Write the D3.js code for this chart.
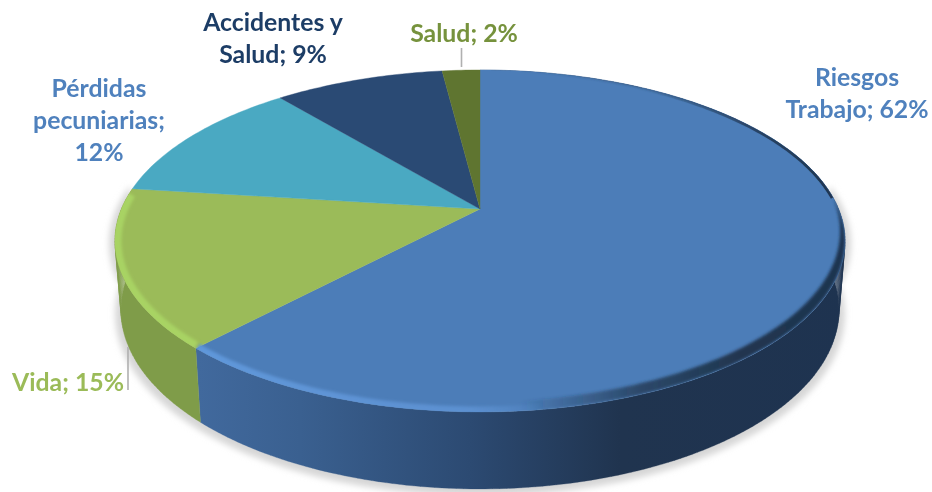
<!DOCTYPE html>
<html><head><meta charset="utf-8">
<script src="https://cdn.jsdelivr.net/npm/d3@7/dist/d3.min.js"></script>
<style>html,body{margin:0;padding:0;background:#fff}svg{display:block}text{font-family:Lato,"Open Sans",sans-serif;font-weight:700;text-anchor:middle}</style>
</head><body><svg id="c" width="932" height="492"></svg>
<script>
const categories = ["Riesgos Trabajo", "Vida", "Pérdidas pecuniarias", "Accidentes y Salud", "Salud"];
const values = [62, 15, 12, 9, 2];
const topColors = ["#4c7db8", "#9bbb59", "#4aa9c2", "#2a4a74", "#5f7530"];
const labelLines = [["Riesgos", "Trabajo; 62%"], ["Vida; 15%"], ["Pérdidas", "pecuniarias;", "12%"], ["Accidentes y", "Salud; 9%"], ["Salud; 2%"]];
const labelColors = ["#4f81bd", "#9bbb59", "#4f81bd", "#1f3d66", "#76923c"];
const labelAnchors = [[857, 86], [68, 391], [99, 97], [273, 31], [464, 42]];
const leaders = [null, [128, 347, 128, 390], null, null, [461.5, 48, 461.5, 67]];

const svg = d3.select("#c");
const defs = svg.append("defs");
const cx = 480, cy = 209, A = 165, B = 358.6, k = 0.187;
const bottomXScale = 0.9835, midY = 241, lowMidY = 310, bottomYScale = 179 / 171, lineGap = 32, fontSize = 24.8;

function project(a, lower) {
  const u = Math.sin(a), v = -Math.cos(a), w = 1 - k * v;
  const x = cx + B * u / w, y = cy + A * v / w;
  return lower ? [cx + (x - cx) * bottomXScale, lowMidY + (y - midY) * bottomYScale] : [x, y];
}
function arcPts(a0, a1, lower) {
  const n = Math.max(2, Math.ceil(Math.abs(a1 - a0) * 60));
  return d3.range(n + 1).map(i => project(a0 + (a1 - a0) * i / n, lower));
}
const line = d3.line();
function wallPath(a0, a1) {
  const t = arcPts(a0, a1, false), b = arcPts(a0, a1, true);
  return d3.range(t.length - 1).map(i => line([t[i], t[i + 1], b[i + 1], b[i]]) + "Z").join("");
}
const pie = d3.pie().sort(null).value(d => d);
const arcs = pie(values);

function grad(id, stops) {
  const g = defs.append("linearGradient").attr("id", id).attr("gradientUnits", "userSpaceOnUse")
    .attr("x1", 100).attr("x2", 860).attr("y1", 0).attr("y2", 0);
  stops.forEach(s => g.append("stop").attr("offset", (s[0] - 100) / 760).attr("stop-color", s[1]).attr("stop-opacity", s[2] === undefined ? 1 : s[2]));
}
grad("wall0", [[199, "#41699d"], [300, "#3a6090"], [470, "#2c4a72"], [620, "#20344f"], [860, "#1e3350"]]);
grad("wall1", [[110, "#7f9c49"], [210, "#7f9c49"]]);
grad("rim0", [[199, "#5f97da", 1], [470, "#5c90d0", 1], [545, "#5c90d0", 0]]);
grad("rim1", [[110, "#a8d364"], [210, "#a8d364"]]);
grad("rimBack", [[500, "#4c7db8"], [650, "#4c7db8"], [760, "#2a4668"], [860, "#1c3048"]]);
grad("rimDark", [[520, "#20364f", 0], [640, "#20364f", 0.75], [740, "#20364f", 1], [860, "#1e3350", 1]]);

const blur = (id, sd) => defs.append("filter").attr("id", id)
  .attr("x", "-10%").attr("y", "-10%").attr("width", "120%").attr("height", "120%")
  .append("feGaussianBlur").attr("stdDeviation", sd);
blur("shadowBlur", 3);
blur("rimBlur", 1.8);
blur("rimBlurThin", 0.6);
defs.append("filter").attr("id", "textBlur").attr("x", "-5%").attr("y", "-10%").attr("width", "110%").attr("height", "120%")
  .append("feGaussianBlur").attr("stdDeviation", 0.4);

const facePts = arcPts(0, 2 * Math.PI, false);
defs.append("clipPath").attr("id", "faceClip").append("path").attr("d", line(facePts) + "Z");

// shadow under the disc
svg.append("path").attr("d", wallPath(Math.PI * 0.45, Math.PI * 1.55))
  .attr("transform", "translate(480 320) scale(1.016) translate(-480 -316)")
  .attr("fill", "#d6d6d6").attr("filter", "url(#shadowBlur)");

// walls (only the two slices facing the viewer show)
svg.append("g").selectAll("path").data(arcs.slice(0, 2)).join("path")
  .attr("d", d => wallPath(d.startAngle, d.endAngle))
  .attr("fill", (d, i) => `url(#wall${i})`).attr("stroke", (d, i) => `url(#wall${i})`).attr("stroke-width", 0.3);

// top face
svg.append("g").selectAll("path").data(arcs).join("path")
  .attr("d", d => line([[cx, cy]].concat(arcPts(d.startAngle, d.endAngle, false))) + "Z")
  .attr("fill", (d, i) => topColors[i])
  .attr("stroke", (d, i) => topColors[i]).attr("stroke-width", 0.4);

// bevel rim
const rim = svg.append("g").attr("clip-path", "url(#faceClip)");
const a0 = arcs[0], a1 = arcs[1];
rim.append("path").attr("d", line(arcPts(0.55, 1.5, false))).attr("fill", "none")
  .attr("stroke", "url(#rimBack)").attr("stroke-width", 5).attr("filter", "url(#rimBlurThin)");
const shifted = facePts.map(p => [p[0] - 5, p[1] - 10]);
rim.append("path").attr("d", line(facePts) + "Z" + line(shifted) + "Z").attr("fill-rule", "evenodd")
  .attr("fill", "url(#rimDark)").attr("filter", "url(#rimBlur)");
rim.append("path").attr("d", line(arcPts(3.0, a0.endAngle - 0.004, false))).attr("fill", "none")
  .attr("stroke", "url(#rim0)").attr("stroke-width", 11).attr("filter", "url(#rimBlur)");
rim.append("path").attr("d", line(arcPts(a1.startAngle + 0.004, a1.endAngle - 0.03, false))).attr("fill", "none")
  .attr("stroke", "url(#rim1)").attr("stroke-width", 13).attr("filter", "url(#rimBlur)");

// leader lines
svg.append("g").selectAll("line").data(leaders.filter(Boolean)).join("line")
  .attr("x1", d => d[0]).attr("y1", d => d[1]).attr("x2", d => d[2]).attr("y2", d => d[3])
  .attr("stroke", "#b0b0b0").attr("stroke-width", 1.6);

// labels
const labels = svg.append("g").selectAll("text").data(categories).join("text")
  .attr("font-size", fontSize).attr("fill", (d, i) => labelColors[i]).attr("filter", "url(#textBlur)");
labels.each(function (d, i) {
  d3.select(this).selectAll("tspan").data(labelLines[i]).join("tspan")
    .attr("x", labelAnchors[i][0]).attr("y", (t, j) => labelAnchors[i][1] + j * lineGap).text(t => t);
});
</script></body></html>
